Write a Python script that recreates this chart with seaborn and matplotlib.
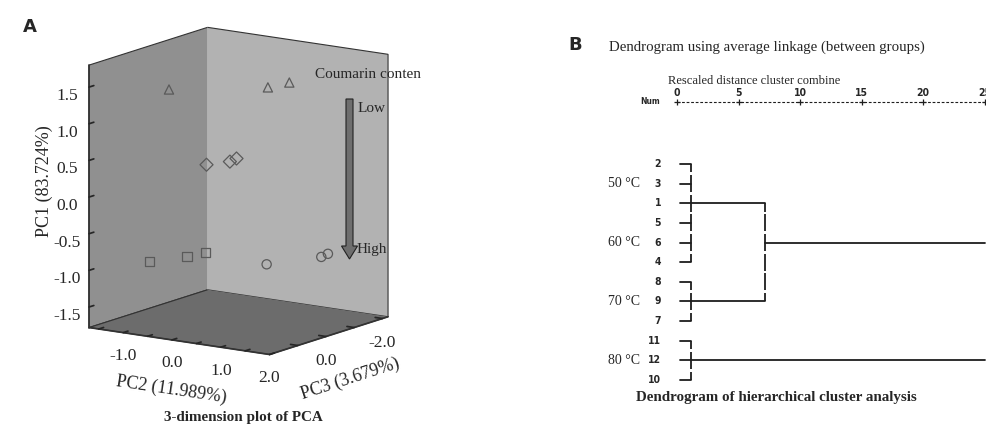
import numpy as np
import pandas as pd
import seaborn as sns
import matplotlib
matplotlib.use("Agg")
import matplotlib.pyplot as plt
from matplotlib.patches import FancyArrow

# ---------------- data ----------------
# Panel A: PCA scores (3 replicates per group, marker = group)
markers = ["^", "^", "^", "D", "D", "D", "s", "s", "s", "o", "o", "o"]
pc1 = [1.45, 1.41, 1.43, 0.41, 0.41, 0.43, -0.85, -0.79, -0.73, -0.97, -0.92, -0.90]
pc2 = [-0.64, 0.52, 0.67, -0.16, 0.03, 0.05, -0.75, -0.27, 0.00, 0.61, 1.21, 1.23]
pc3 = [1.0, -0.5, -1.0, 0.5, 0.0, -0.2, 1.5, 1.0, 0.8, -0.3, -1.2, -1.4]
pc1_ticks = [-1.5, -1.0, -0.5, 0.0, 0.5, 1.0, 1.5]
pc2_ticks = [-1.5, -1.0, -0.5, 0.0, 0.5, 1.0, 1.5, 2.0]
pc2_labeled = [-1.0, 0.0, 1.0, 2.0]
pc3_ticks = [-2.0, -1.0, 0.0, 1.0]
pc3_labeled = [-2.0, 0.0]

# Panel B: dendrogram
leaf_labels = ["2", "3", "1", "5", "6", "4", "8", "9", "7", "11", "12", "10"]
temp_labels = ["50 °C", "60 °C", "70 °C", "80 °C"]
temp_rows = [1, 4, 7, 10]
# first-level clusters: (first row, last row, joining row)
clusters = [(0, 5, 2), (6, 8, 7), (9, 11, 10)]
cluster_height = 1.1
# higher merges: (row a, row b, height, resulting row)
merges = [(2, 7, 7.15, 4), (4, 10, 25.0, None)]
dist_ticks = [0, 5, 10, 15, 20, 25]

sns.set_theme(style="white")
plt.rcParams["font.family"] = ["Liberation Serif", "DejaVu Serif"]
plt.rcParams["axes.unicode_minus"] = False

W, H = 986, 429
fig = plt.figure(figsize=(W / 100, H / 100), dpi=100)

# ---------------- Panel A (3D PCA) ----------------
XL, YL, ZL = (-2.2, 2.0), (-1.7, 2.0), (-1.78, 1.8)
ax = fig.add_axes([-0.0237, 0.062, 0.52, 0.96], projection="3d")
ax.set_proj_type("ortho")
ax.view_init(elev=12.6, azim=34.4)
ax.set_xlim(*XL)
ax.set_ylim(*YL)
ax.set_zlim(*ZL)
ax.set_box_aspect((209, 218, 268), zoom=0.955)
ax.grid(False)
ax.xaxis.set_pane_color("#b2b2b2")
ax.yaxis.set_pane_color("#909090")
ax.zaxis.set_pane_color("#6c6c6c")
for a in (ax.xaxis, ax.yaxis, ax.zaxis):
    a.pane.set_edgecolor("#333333")
    a.pane.set_linewidth(0.8)
    a.line.set_color("#333333")
    a._axinfo["tick"]["inward_factor"] = 0.0
    a._axinfo["tick"]["outward_factor"] = 0.5
    a._axinfo["tick"]["color"] = "#555555"

df = pd.DataFrame({"pc1": pc1, "pc2": pc2, "pc3": pc3, "m": markers})
for m, sub in df.groupby("m", sort=False):
    ax.scatter(sub["pc3"], sub["pc2"], sub["pc1"], marker=m, s=44,
               facecolors="none", edgecolors="#5a5a5a", linewidths=0.9,
               depthshade=False)

ax.set_zticks(pc1_ticks)
ax.set_zticklabels([f"{v:.1f}" for v in pc1_ticks], fontsize=12.5)
ax.set_yticks(pc2_ticks)
ax.set_yticklabels([])
ax.set_xticks(pc3_ticks)
ax.set_xticklabels([])
# tick labels straight below their ticks on the front bottom edges
zlab = ZL[0] - 0.32
for v in pc2_labeled:
    ax.text(XL[1], v, zlab, f"{v:.1f}", ha="center", va="center", fontsize=12.5)
for v in pc3_labeled:
    ax.text(v, YL[1], zlab - 0.02, f"{v:.1f}", ha="center", va="center", fontsize=12.5)

fig.text(44 / W, 1 - 181 / H, "PC1 (83.724%)", fontsize=13, rotation=90,
         ha="center", va="center")
fig.text(171 / W, 1 - 390 / H, "PC2 (11.989%)", fontsize=13, rotation=-8.5,
         ha="center", va="center", rotation_mode="anchor")
fig.text(350 / W, 1 - 379 / H, "PC3 (3.679%)", fontsize=13, rotation=18,
         ha="center", va="center", rotation_mode="anchor")

fig.text(23 / W, 1 - 27 / H, "A", fontsize=13, fontweight="bold",
         family=["DejaVu Sans"], va="center", ha="left")
fig.text(243 / W, 1 - 418 / H, "3-dimension plot of PCA", fontsize=10.9,
         fontweight="bold", ha="center", va="center")
fig.text(315 / W, 1 - 75 / H, "Coumarin conten", fontsize=11, ha="left", va="center")
fig.add_artist(FancyArrow(349.5 / W, 1 - 99 / H, 0, -(160 / H), width=7 / W,
                          head_width=16 / W, head_length=13 / H,
                          length_includes_head=True, transform=fig.transFigure,
                          facecolor="#6e6e6e", edgecolor="#222222", linewidth=0.8))
fig.text(358 / W, 1 - 108 / H, "Low", fontsize=11, ha="left", va="center")
fig.text(357 / W, 1 - 250 / H, "High", fontsize=11, ha="left", va="center")

# ---------------- Panel B (dendrogram) ----------------
axb = fig.add_axes([677 / W, 1 - 380 / H, 307.5 / W, 216 / H])
axb.set_xlim(0, 25)
axb.set_ylim(11, 0)
axb.axis("off")
lc = "#1e1e1e"
stub0 = 0.25


def vline_rows(x, r0, r1):
    # character-style vertical: one piece per row, small gap between rows
    for r in range(r0, r1 + 1):
        y0 = max(r - 0.43, r0)
        y1 = min(r + 0.43, r1)
        axb.plot([x, x], [y0, y1], color=lc, lw=1.3, clip_on=False,
                 solid_capstyle="butt")


for (r0, r1, rj) in clusters:
    for r in range(r0, r1 + 1):
        axb.plot([stub0, cluster_height], [r, r], color=lc, lw=1.3, clip_on=False)
    vline_rows(cluster_height, r0, r1)
prev = {rj: cluster_height for (_, _, rj) in clusters}
for (ra, rb, h, rnew) in merges:
    axb.plot([prev[ra], h], [ra, ra], color=lc, lw=1.3, clip_on=False)
    axb.plot([prev[rb], h], [rb, rb], color=lc, lw=1.3, clip_on=False)
    if rnew is not None:
        vline_rows(h, ra, rb)
        prev[rnew] = h
narrow = ["Liberation Sans Narrow", "DejaVu Sans"]
for i, lab in enumerate(leaf_labels):
    axb.text(-1.3, i, lab, ha="right", va="center", fontsize=7.5,
             fontweight="bold", family=narrow, fontstretch="condensed")
for lab, r in zip(temp_labels, temp_rows):
    axb.text(-3.0, r, lab, ha="right", va="center", fontsize=10)
# header scale
axb.plot([0, 25], [-3.16, -3.16], color=lc, lw=0.8, ls=(0, (2.5, 1.6)), clip_on=False)
axb.plot(dist_ticks, [-3.16] * len(dist_ticks), ls="none", marker="+", ms=5,
         mew=0.9, color=lc, clip_on=False)
for t in dist_ticks:
    axb.text(t, -3.62, str(t), ha="center", va="center", fontsize=7.5,
             fontweight="bold", family=narrow, fontstretch="condensed", clip_on=False)
axb.text(-2.2, -3.16, "Num", ha="center", va="center", fontsize=6,
         fontweight="bold", family=narrow, fontstretch="condensed")
axb.text(-0.75, -4.25, "Rescaled distance cluster combine", ha="left",
         va="center", fontsize=9.0)
axb.text(-5.5, -5.96, "Dendrogram using average linkage (between groups)",
         ha="left", va="center", fontsize=10.7)
axb.text(8.1, 11.9, "Dendrogram of hierarchical cluster analysis", ha="center",
         va="center", fontsize=10.8, fontweight="bold")
fig.text(568 / W, 1 - 45 / H, "B", fontsize=13, fontweight="bold",
         family=["DejaVu Sans"], va="center", ha="left")

fig.savefig("out.png", dpi=100)
